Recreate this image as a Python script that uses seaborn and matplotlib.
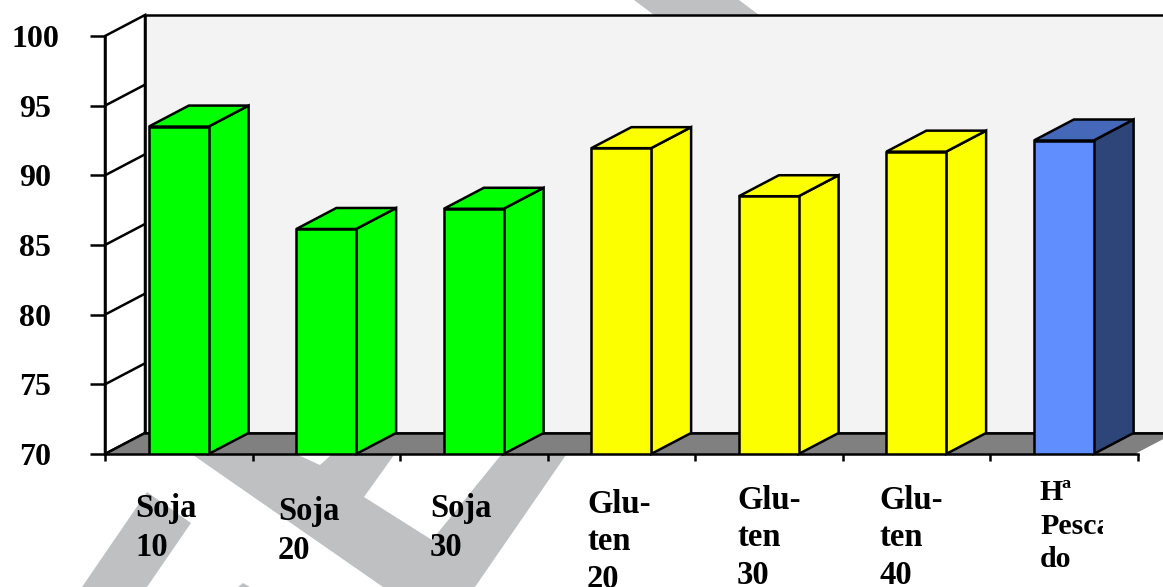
import matplotlib
matplotlib.use("Agg")
import matplotlib.pyplot as plt
import pandas as pd
import seaborn as sns
from matplotlib.patches import Polygon
from matplotlib.transforms import Affine2D, Bbox, TransformedBbox

# Chart data
categories = ["Soja\n10", "Soja\n20", "Soja\n30", "Glu-\nten\n20", "Glu-\nten\n30", "Glu-\nten\n40", "Hª\nPesca\ndo"]
values = [93.5, 86.15, 87.6, 91.95, 88.5, 91.7, 92.5]
y_ticks = [70, 75, 80, 85, 90, 95, 100]

front_colors = ["#00ff00"] * 3 + ["#fbff00"] * 3 + ["#618eff"]
side_colors = ["#00ff00"] * 3 + ["#fbff00"] * 3 + ["#2e4579"]
top_colors = ["#00ff00"] * 3 + ["#fbff00"] * 3 + ["#4668b8"]

W, H = 1163, 587
LINE = 1.8
sns.set_theme(style="white")
plt.rcParams["font.family"] = ["Liberation Serif", "DejaVu Sans"]
plt.rcParams["font.weight"] = "bold"

fig = plt.figure(figsize=(W / 100, H / 100), dpi=100, facecolor="white")
pixel = Affine2D().scale(1 / W, -1 / H).translate(0, 1) + fig.transFigure

# Diagonal background stamp running behind the plot
stamp_shapes = [
    [(634, 0), (739, 0), (759, 15), (654, 15)],
    [(193, 455), (298, 455), (320, 465), (331, 455), (394, 455), (364, 497), (432, 540),
     (501, 455), (566, 455), (475, 587), (383, 587)],
    [(147, 492), (191, 523), (147, 587), (82, 587)],
    [(243, 583), (250, 587), (238, 587)],
]
for shape in stamp_shapes:
    fig.add_artist(Polygon(shape, closed=True, facecolor="#bfc0c2", edgecolor="none",
                           transform=pixel, zorder=-1))

ax = fig.add_axes([105 / W, (H - 454) / H, 1032.5 / W, 418 / H])
ax.patch.set_visible(False)

frame = pd.DataFrame({"category": categories, "value": values})
sns.barplot(data=frame, x="category", y="value", hue="category", order=categories,
            palette=dict(zip(categories, front_colors)), saturation=1, width=0.405,
            edgecolor="black", linewidth=LINE, legend=False, dodge=False, ax=ax)
for bar in ax.patches:
    bar.set_zorder(4)

ax.set_xlim(-0.5, 6.5)
ax.set_ylim(70, 100)

# Oblique depth of the pseudo-3D box, in data units
depth_x = 40 / 147.5
depth_y = 21 / (418 / 30)
half = 0.405 / 2
edge = dict(edgecolor="black", linewidth=LINE, clip_on=False, joinstyle="miter")

x0, x1 = -0.5, 6.5
# Back wall, left wall and floor
ax.fill([x0 + depth_x, x1 + depth_x, x1 + depth_x, x0 + depth_x],
        [70 + depth_y, 70 + depth_y, 100 + depth_y, 100 + depth_y],
        facecolor="#f3f3f3", zorder=0.5, **edge)
ax.fill([x0, x0 + depth_x, x0 + depth_x, x0],
        [70, 70 + depth_y, 100 + depth_y, 100],
        facecolor="white", zorder=0.6, **edge)
ax.fill([x0, x0 + depth_x, x1 + depth_x, x1],
        [70, 70 + depth_y, 70 + depth_y, 70],
        facecolor="#808080", edgecolor="none", clip_on=False, zorder=0.7)
ax.plot([x0 + depth_x, x1 + depth_x], [70 + depth_y] * 2, color="black", lw=LINE, clip_on=False, zorder=0.8)
ax.plot([x0, x0 + depth_x], [70, 70 + depth_y], color="black", lw=LINE, clip_on=False, zorder=0.8)
ax.plot([x1, x1 + depth_x], [70, 70 + depth_y], color="white", lw=LINE, clip_on=False, zorder=0.8)

# Guide lines across the left wall
for tick in y_ticks[1:-1]:
    ax.plot([x0, x0 + depth_x], [tick, tick + depth_y], color="black", lw=LINE, zorder=0.8, clip_on=False)

# Side and top faces of every column
for i, value in enumerate(values):
    left, right = i - half, i + half
    ax.fill([right, right + depth_x, right + depth_x, right],
            [70, 70 + depth_y, value + depth_y, value],
            facecolor=side_colors[i], zorder=3, **edge)
    ax.fill([left, left + depth_x, right + depth_x, right],
            [value, value + depth_y, value + depth_y, value],
            facecolor=top_colors[i], zorder=3, **edge)

# Axes, ticks and value labels
sns.despine(ax=ax, top=True, right=True)
for name in ("left", "bottom"):
    ax.spines[name].set_linewidth(LINE)
    ax.spines[name].set_color("black")
    ax.spines[name].set_zorder(5)
ax.set_xlabel("")
ax.set_ylabel("")
ax.set_yticks(y_ticks)
ax.set_xticks([x0 + k for k in range(8)])
ax.set_xticklabels([])
ax.tick_params(axis="y", left=True, length=10.8, width=LINE, color="black", pad=39.6,
               labelsize=23, labelcolor="black")
ax.tick_params(axis="x", bottom=True, length=5, width=LINE, color="black")
for label in ax.get_yticklabels():
    label.set_horizontalalignment("center")
    label.set_fontweight("bold")

# Category captions, each with its own position and size
caption_places = [(135, 556, 23.5), (278, 559, 23.5), (430, 556, 23.5), (587, 588, 23.5),
                  (737, 584, 23.5), (879, 584, 23.5), (1040, 567, 21.5)]
caption_spacing = [1.32, 1.32, 1.32, 1.28, 1.28, 1.28, 1.3]
for text, (px, py, size), spacing in zip(categories, caption_places, caption_spacing):
    caption = fig.text(px, py, text, transform=pixel, fontsize=size, fontweight="bold", color="black",
                       ha="left", va="baseline", linespacing=spacing, zorder=6)
    if text.startswith("Hª"):
        caption.set_clip_box(TransformedBbox(Bbox([[1030, 0], [1103, H]]), Affine2D().scale(1)))
        caption.set_clip_on(True)

fig.savefig("out.png", dpi=100, facecolor="white")
